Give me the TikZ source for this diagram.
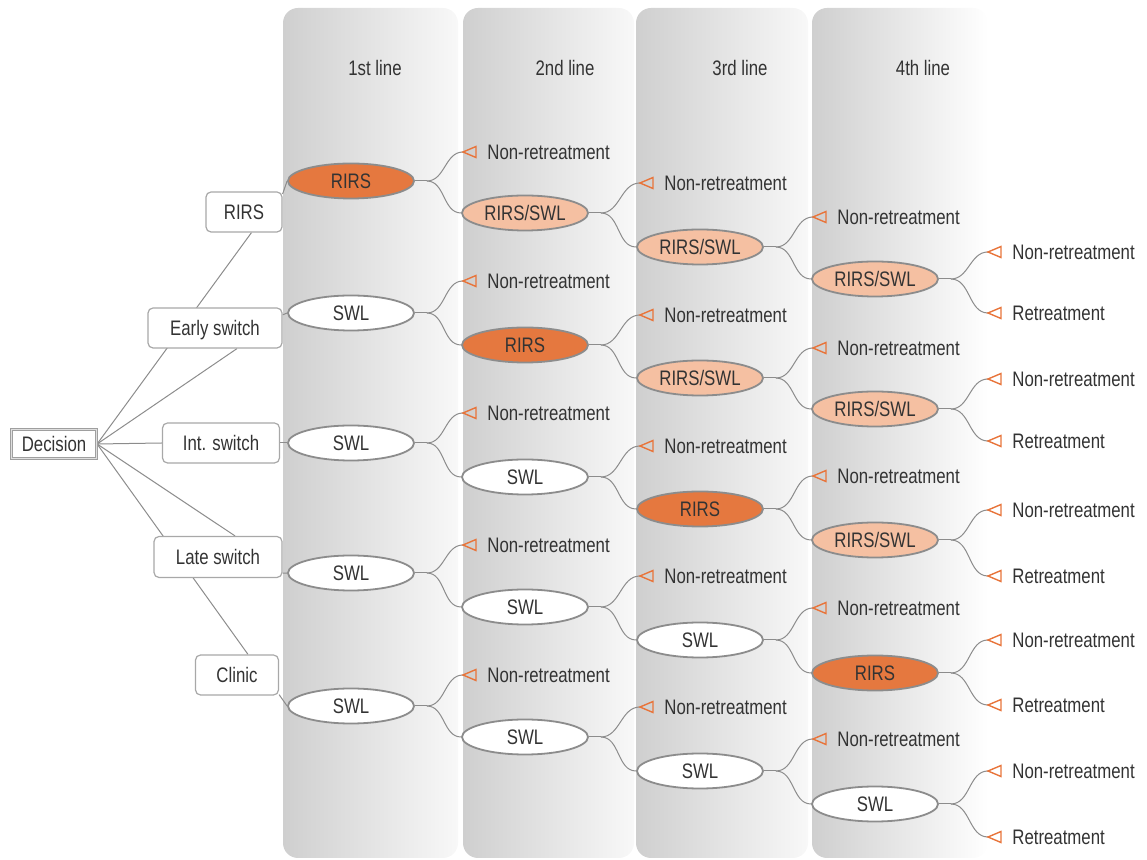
\documentclass[tikz,border=0pt]{standalone}
\usepackage{fontspec}
\setmainfont[FakeStretch=0.8]{Liberation Sans}
\usetikzlibrary{shapes.geometric,calc}
\definecolor{txt}{HTML}{333333}
\definecolor{dorange}{HTML}{E5783F}
\definecolor{lorange}{HTML}{F5C0A2}
\definecolor{edgec}{HTML}{8C8C8C}
\definecolor{boxedge}{HTML}{A8A8A8}
\definecolor{tric}{HTML}{E8743A}
\definecolor{panelc}{HTML}{CFCFCF}
\definecolor{panelm}{HTML}{DCDCDC}
\definecolor{panelr}{HTML}{F8F8F8}
\pgfdeclarelayer{bg}
\pgfdeclarelayer{lines}
\pgfsetlayers{bg,lines,main}
\newcommand\leafnode[4]{%
  \coordinate (#1) at (#2,#3);
  \draw[marker] (#1) -- ++(13,-5.5) -- ++(0,11) -- cycle;
  \node[leaf] (#1t) at ($(#1)+(24,0)$) {#4};
}
\newcommand\branchto[3]{%
  \begin{pgfonlayer}{lines}
  \draw[conn] (#1.east) -- ++(12,0) coordinate (#1s);
  \draw[conn] (#1s) to[out=0,in=180] (#2);
  \draw[conn] (#1s) to[out=0,in=180] (#3);
  \end{pgfonlayer}
}
\begin{document}
\begin{tikzpicture}[x=0.5pt,y=-0.5pt, font=\fontsize{10.5}{12}\selectfont, text=txt,
 ell/.style={ellipse, draw=edgec, line width=0.9pt, minimum width=63pt, minimum height=17.5pt, inner sep=0pt, text height=7.5pt, text depth=0pt},
 ewhite/.style={ell, fill=white}, edark/.style={ell, fill=dorange}, elight/.style={ell, fill=lorange},
 sbox/.style={draw=boxedge, line width=0.6pt, rounded corners=2.5pt, fill=white, minimum height=20pt, inner sep=0pt, text height=7.5pt, text depth=0pt},
 conn/.style={draw=edgec, line width=0.5pt},
 marker/.style={draw=tric, line width=0.7pt, line join=miter},
 leaf/.style={anchor=west, inner sep=0pt, text height=7.5pt, text depth=0pt},
 panelshade/.style={rounded corners=7.5pt, left color=panelc, middle color=panelm, right color=panelr},
 head/.style={inner sep=0pt}
]
\useasboundingbox (0,0) rectangle (1147,860);
\begin{pgfonlayer}{bg}
\shade[panelshade] (283,8) rectangle (458,858);
\shade[panelshade] (463,8) rectangle (634,858);
\shade[panelshade] (636,8) rectangle (808,858);
\shade[panelshade, middle color=panelm!70!white, right color=white] (812,8) rectangle (988,858);
\end{pgfonlayer}
\node[head] (h1) at (375,68) {1st line};
\node[head] (h2) at (565,68) {2nd line};
\node[head] (h3) at (740,68) {3rd line};
\node[head] (h4) at (923,68) {4th line};

% left boxes
\node[draw=gray!75, double=gray!25, double distance=0.6pt, line width=0.6pt, fill=white, minimum width=42.5pt, minimum height=14.5pt, inner sep=0pt, text height=7.5pt, text depth=0pt] (dec) at (54,444) {Decision};
\node[sbox, minimum width=38pt] (rirsbox) at (244,212) {RIRS};
\node[sbox, minimum width=67pt] (early) at (215,328) {Early switch};
\node[sbox, minimum width=58.5pt] (intsw) at (221,443) {Int. switch};
\node[sbox, minimum width=64pt, minimum height=20.5pt] (late) at (218,557) {Late switch};
\node[sbox, minimum width=41.5pt] (clinic) at (237,675) {Clinic};

% level 1
\node[edark] (a1) at (351,181) {RIRS};
\node[ewhite] (a2) at (351,313) {SWL};
\node[ewhite] (a3) at (351,443) {SWL};
\node[ewhite] (a4) at (351,573) {SWL};
\node[ewhite] (a5) at (351,706) {SWL};
% level 2
\node[elight] (b1) at (525,213) {RIRS/SWL};
\node[edark] (b2) at (525,345) {RIRS};
\node[ewhite] (b3) at (525,477) {SWL};
\node[ewhite] (b4) at (525,607) {SWL};
\node[ewhite] (b5) at (525,737) {SWL};
% level 3
\node[elight] (c1) at (700,247) {RIRS/SWL};
\node[elight] (c2) at (700,378) {RIRS/SWL};
\node[edark] (c3) at (700,509) {RIRS};
\node[ewhite] (c4) at (700,640) {SWL};
\node[ewhite] (c5) at (700,771) {SWL};
% level 4
\node[elight] (d1) at (875,279) {RIRS/SWL};
\node[elight] (d2) at (875,409) {RIRS/SWL};
\node[elight] (d3) at (875,540) {RIRS/SWL};
\node[edark] (d4) at (875,673) {RIRS};
\node[ewhite] (d5) at (875,804) {SWL};

% leaves
\leafnode{la1}{463}{152}{Non-retreatment}
\leafnode{la2}{463}{281}{Non-retreatment}
\leafnode{la3}{463}{413}{Non-retreatment}
\leafnode{la4}{463}{545}{Non-retreatment}
\leafnode{la5}{463}{675}{Non-retreatment}
\leafnode{lb1}{640}{183}{Non-retreatment}
\leafnode{lb2}{640}{315}{Non-retreatment}
\leafnode{lb3}{640}{446}{Non-retreatment}
\leafnode{lb4}{640}{576}{Non-retreatment}
\leafnode{lb5}{640}{707}{Non-retreatment}
\leafnode{lc1}{813}{217}{Non-retreatment}
\leafnode{lc2}{813}{348}{Non-retreatment}
\leafnode{lc3}{813}{476}{Non-retreatment}
\leafnode{lc4}{813}{608}{Non-retreatment}
\leafnode{lc5}{813}{739}{Non-retreatment}
\leafnode{ld1n}{988}{252}{Non-retreatment}
\leafnode{ld1r}{988}{313}{Retreatment}
\leafnode{ld2n}{988}{379}{Non-retreatment}
\leafnode{ld2r}{988}{441}{Retreatment}
\leafnode{ld3n}{988}{510}{Non-retreatment}
\leafnode{ld3r}{988}{576}{Retreatment}
\leafnode{ld4n}{988}{640}{Non-retreatment}
\leafnode{ld4r}{988}{705}{Retreatment}
\leafnode{ld5n}{988}{771}{Non-retreatment}
\leafnode{ld5r}{988}{837}{Retreatment}

% connectors
\begin{pgfonlayer}{lines}
\draw[conn] (dec.east) -- (rirsbox.-70);
\draw[conn] (dec.east) -- ($(early.south)+(22,0)$);
\draw[conn] (dec.east) -- (intsw.west);
\draw[conn] (dec.east) -- ($(late.north)+(17,0)$);
\draw[conn] (dec.east) -- ($(clinic.north)+(11,0)$);
\draw[conn] (rirsbox.25) -- (a1.west);
\draw[conn] (early.11) -- (a2.west);
\draw[conn] (intsw.east) -- (a3.west);
\draw[conn] (late.-14) -- (a4.west);
\draw[conn] (clinic.-25) -- (a5.west);
\end{pgfonlayer}
\branchto{a1}{la1}{b1.west}
\branchto{a2}{la2}{b2.west}
\branchto{a3}{la3}{b3.west}
\branchto{a4}{la4}{b4.west}
\branchto{a5}{la5}{b5.west}
\branchto{b1}{lb1}{c1.west}
\branchto{b2}{lb2}{c2.west}
\branchto{b3}{lb3}{c3.west}
\branchto{b4}{lb4}{c4.west}
\branchto{b5}{lb5}{c5.west}
\branchto{c1}{lc1}{d1.west}
\branchto{c2}{lc2}{d2.west}
\branchto{c3}{lc3}{d3.west}
\branchto{c4}{lc4}{d4.west}
\branchto{c5}{lc5}{d5.west}
\branchto{d1}{ld1n}{ld1r}
\branchto{d2}{ld2n}{ld2r}
\branchto{d3}{ld3n}{ld3r}
\branchto{d4}{ld4n}{ld4r}
\branchto{d5}{ld5n}{ld5r}
\end{tikzpicture}
\end{document}
